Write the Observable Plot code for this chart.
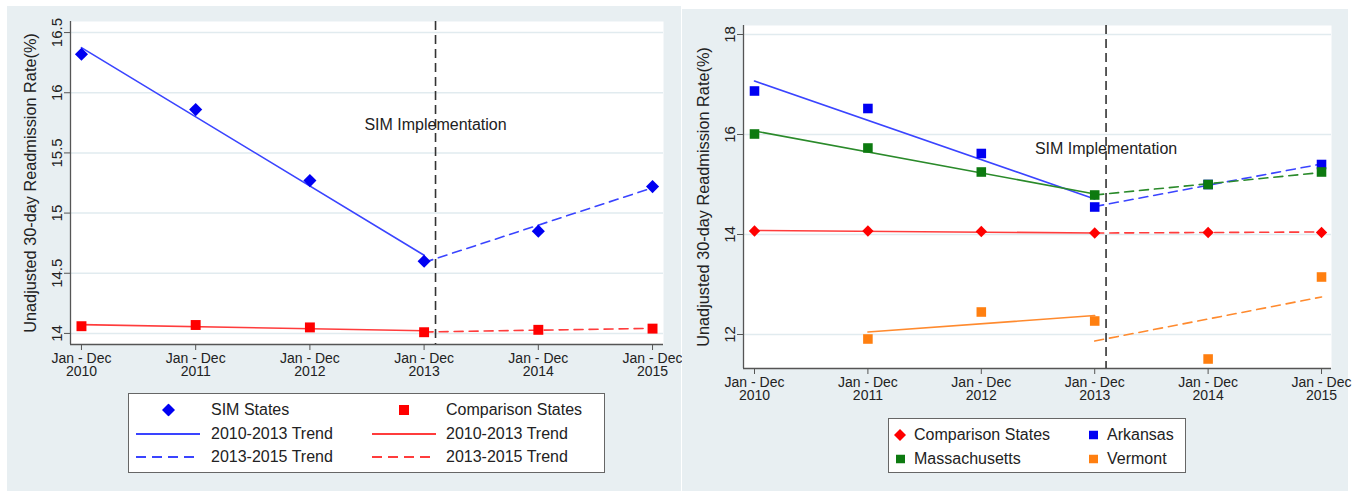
<!DOCTYPE html>
<html><head><meta charset="utf-8">
<script src="https://cdn.jsdelivr.net/npm/d3@7"></script>
<script src="https://cdn.jsdelivr.net/npm/@observablehq/plot@0.6"></script>
<style>
body{margin:0;background:#fff;width:1360px;height:491px;overflow:hidden;font-family:"Liberation Sans",Arial,sans-serif;}
#wrap{position:relative;width:1360px;height:491px;}
.panel{position:absolute;background:#e8eff2;}
.panel svg{display:block;}
.legend{position:absolute;background:#fff;border:1px solid #666;box-sizing:border-box;}
.item{position:absolute;font-size:16px;color:#222;white-space:nowrap;line-height:1;transform:translateY(-50%);}
.sample{position:absolute;transform:translateY(-50%);}
</style></head><body><div id="wrap"></div>
<script>
// ---------- shared ----------
const years = [2010, 2011, 2012, 2013, 2014, 2015];
const xTickLabels = ["Jan - Dec\n2010", "Jan - Dec\n2011", "Jan - Dec\n2012", "Jan - Dec\n2013", "Jan - Dec\n2014", "Jan - Dec\n2015"];
const preYears = [2010, 2013];
const postYears = [2013, 2015];
const simYear = 2013.1;
const annotationText = "SIM Implementation";
const yTitle = "Unadjusted 30-day Readmission Rate(%)";

// ---------- left panel ----------
const leftYTicks = [14, 14.5, 15, 15.5, 16, 16.5];
const leftYTickLabels = ["14", "14.5", "15", "15.5", "16", "16.5"];
const simStates = [16.32, 15.86, 15.27, 14.60, 14.85, 15.22];
const comparisonStatesL = [14.06, 14.07, 14.05, 14.01, 14.03, 14.04];
const simTrendPre = [16.375, 14.65];
const simTrendPost = [14.59, 15.21];
const compTrendPreL = [14.073, 14.022];
const compTrendPostL = [14.012, 14.042];
const leftAnnotY = 15.73;

// ---------- right panel ----------
const rightYTicks = [12, 14, 16, 18];
const rightYTickLabels = ["12", "14", "16", "18"];
const comparisonStatesR = [14.07, 14.07, 14.06, 14.03, 14.04, 14.04];
const arkansas = [16.87, 16.52, 15.62, 14.55, 15.00, 15.40];
const massachusetts = [16.01, 15.73, 15.25, 14.79, 15.00, 15.25];
const vermont = [null, 11.91, 12.45, 12.27, 11.51, 13.15];
const compTrendPreR = [14.08, 14.03];
const compTrendPostR = [14.03, 14.05];
const arkTrendPre = [17.07, 14.71];
const arkTrendPost = [14.56, 15.41];
const massTrendPre = [16.07, 14.81];
const massTrendPost = [14.79, 15.24];
const vtTrendYearsPre = [2011, 2013];
const vtTrendPre = [12.05, 12.38];
const vtTrendPost = [11.87, 12.75];
const rightAnnotY = 15.72;

const BLUE = "#0000f2", BLUE_L = "#3a44ff";
const RED = "#ff0000", RED_L = "#ff3c3c";
const GREEN = "#0d7a10", GREEN_L = "#2a8a2a";
const ORANGE = "#ff7f10", ORANGE_L = "#ff8a2e";

const leftSeries = [
  {name: "SIM States", values: simStates, color: BLUE, line: BLUE_L, symbol: "diamond2", r: 5.9,
   pre: {years: preYears, values: simTrendPre}, post: {years: postYears, values: simTrendPost}},
  {name: "Comparison States", values: comparisonStatesL, color: RED, line: RED_L, symbol: "square", r: 5.6,
   pre: {years: preYears, values: compTrendPreL}, post: {years: postYears, values: compTrendPostL}}
];
const rightSeries = [
  {name: "Comparison States", values: comparisonStatesR, color: RED, line: RED_L, symbol: "diamond2", r: 5.1,
   pre: {years: preYears, values: compTrendPreR}, post: {years: postYears, values: compTrendPostR}},
  {name: "Arkansas", values: arkansas, color: BLUE, line: BLUE_L, symbol: "square", r: 5.4,
   pre: {years: preYears, values: arkTrendPre}, post: {years: postYears, values: arkTrendPost}},
  {name: "Massachusetts", values: massachusetts, color: GREEN, line: GREEN_L, symbol: "square", r: 5.4,
   pre: {years: preYears, values: massTrendPre}, post: {years: postYears, values: massTrendPost}},
  {name: "Vermont", values: vermont, color: ORANGE, line: ORANGE_L, symbol: "square", r: 5.4,
   pre: {years: vtTrendYearsPre, values: vtTrendPre}, post: {years: postYears, values: vtTrendPost}}
];

function toRows(ys, vs) { return ys.map((y, i) => ({year: y, value: vs[i]})).filter(d => d.value != null); }

function makePanel(cfg) {
  const marks = [
    Plot.frame({fill: "white", stroke: null}),
    Plot.gridY(cfg.yTicks, {stroke: "#e1ebef", strokeOpacity: 1, strokeWidth: 1.5}),
    Plot.ruleX([cfg.xDomain[0]], {stroke: "#555", strokeWidth: 1.3}),
    Plot.ruleY([cfg.yDomain[0]], {stroke: "#555", strokeWidth: 1.3})
  ];
  for (const s of cfg.series) {
    marks.push(Plot.line(toRows(s.pre.years, s.pre.values), {x: "year", y: "value", stroke: s.line, strokeWidth: 1.6}));
    marks.push(Plot.line(toRows(s.post.years, s.post.values), {x: "year", y: "value", stroke: s.line, strokeWidth: 1.6, strokeDasharray: "9,6"}));
  }
  marks.push(Plot.ruleX([simYear], {stroke: "#333", strokeWidth: 1.6, strokeDasharray: "9,5"}));
  for (const s of cfg.series) {
    marks.push(Plot.dot(toRows(years, s.values), {x: "year", y: "value", symbol: s.symbol, r: s.r, fill: s.color, stroke: null}));
  }
  marks.push(Plot.text([{label: annotationText, year: simYear, value: cfg.annotY}],
    {x: "year", y: "value", text: "label", fontSize: 16, fill: "#222"}));
  marks.push(Plot.axisX(years, {tickFormat: d => xTickLabels[years.indexOf(d)], tickSize: 6, tickPadding: 3,
    fontSize: 14, lineHeight: 0.95, stroke: "#555", fill: "#222", label: null}));
  marks.push(Plot.axisY(cfg.yTicks, {tickFormat: d => cfg.yTickLabels[cfg.yTicks.indexOf(d)], tickRotate: -90, tickSize: 6, tickPadding: 3, fontSize: 15,
    stroke: "#555", fill: "#222", label: null}));
  marks.push(Plot.axisY([], {label: yTitle, labelAnchor: "center", labelArrow: false, labelOffset: cfg.labelOffset, fontSize: 16.3, fill: "#222"}));

  return Plot.plot({
    width: cfg.width, height: cfg.height,
    marginLeft: cfg.ml, marginRight: cfg.mr, marginTop: cfg.mt, marginBottom: cfg.mb,
    x: {type: "linear", domain: cfg.xDomain, label: null},
    y: {type: "linear", domain: cfg.yDomain},
    style: {background: "transparent", fontFamily: "'Liberation Sans', Arial, sans-serif", fontSize: "14px", color: "#222", overflow: "visible"},
    marks
  });
}

const wrap = document.getElementById("wrap");
function addPanel(left, top, w, h, svg) {
  const div = document.createElement("div");
  div.className = "panel";
  Object.assign(div.style, {left: left + "px", top: top + "px", width: w + "px", height: h + "px"});
  div.appendChild(svg);
  wrap.appendChild(div);
}

addPanel(7, 6, 674, 485, makePanel({
  width: 674, height: 485, ml: 63, mr: 18, mt: 15, mb: 147,
  xDomain: [2009.904, 2015.096], yDomain: [13.908, 16.592], yTicks: leftYTicks, yTickLabels: leftYTickLabels,
  series: leftSeries, annotY: leftAnnotY, labelOffset: 46
}));
addPanel(682, 9, 666, 482, makePanel({
  width: 666, height: 482, ml: 61, mr: 17, mt: 16, mb: 123,
  xDomain: [2009.903, 2015.088], yDomain: [11.32, 18.18], yTicks: rightYTicks, yTickLabels: rightYTickLabels,
  series: rightSeries, annotY: rightAnnotY, labelOffset: 46
}));

// ---------- legends ----------
function sampleSvg(kind, color, size) {
  const ns = "http://www.w3.org/2000/svg";
  const svg = document.createElementNS(ns, "svg");
  if (kind === "line" || kind === "dash") {
    svg.setAttribute("width", size); svg.setAttribute("height", 6);
    const l = document.createElementNS(ns, "line");
    l.setAttribute("x1", 0); l.setAttribute("x2", size); l.setAttribute("y1", 3); l.setAttribute("y2", 3);
    l.setAttribute("stroke", color); l.setAttribute("stroke-width", 1.8);
    if (kind === "dash") l.setAttribute("stroke-dasharray", "10,6");
    svg.appendChild(l);
  } else {
    svg.setAttribute("width", size); svg.setAttribute("height", size);
    const p = document.createElementNS(ns, "path");
    const h = size / 2;
    p.setAttribute("d", kind === "diamond" ? `M${h},0L${size},${h}L${h},${size}L0,${h}Z` : `M0,0H${size}V${size}H0Z`);
    p.setAttribute("fill", color);
    svg.appendChild(p);
  }
  return svg;
}
function legendBox(left, top, w, h) {
  const d = document.createElement("div");
  d.className = "legend";
  Object.assign(d.style, {left: left + "px", top: top + "px", width: w + "px", height: h + "px"});
  wrap.appendChild(d);
  return d;
}
function addSample(box, cx, cy, svg, width) {
  const holder = document.createElement("div");
  holder.className = "sample";
  Object.assign(holder.style, {left: (cx - width / 2) + "px", top: cy + "px", lineHeight: 0});
  holder.appendChild(svg);
  box.appendChild(holder);
}
function addText(box, x, cy, text) {
  const t = document.createElement("div");
  t.className = "item";
  Object.assign(t.style, {left: x + "px", top: cy + "px"});
  t.textContent = text;
  box.appendChild(t);
}

const leftLegendRows = [16, 40, 63];
const lb = legendBox(128, 393, 477, 80);
[[leftSeries[0], 39, 82], [leftSeries[1], 275, 317]].forEach(([s, cx, tx]) => {
  const isDiamond = s.symbol === "diamond2";
  addSample(lb, cx, leftLegendRows[0], sampleSvg(isDiamond ? "diamond" : "square", s.color, isDiamond ? 13 : 10), isDiamond ? 13 : 10);
  addText(lb, tx, leftLegendRows[0], s.name);
  addSample(lb, cx, leftLegendRows[1], sampleSvg("line", s.line, 64), 64);
  addText(lb, tx, leftLegendRows[1], "2010-2013 Trend");
  addSample(lb, cx, leftLegendRows[2], sampleSvg("dash", s.line, 64), 64);
  addText(lb, tx, leftLegendRows[2], "2013-2015 Trend");
});

const rb = legendBox(888, 418, 298, 55);
const rightLegendPos = [[11, 16, 25], [204, 16, 218], [11, 40, 25], [204, 40, 218]];
[rightSeries[0], rightSeries[1], rightSeries[2], rightSeries[3]].forEach((s, i) => {
  const [cx, cy, tx] = rightLegendPos[i];
  const isDiamond = s.symbol === "diamond2";
  const sz = isDiamond ? 12 : 9;
  addSample(rb, cx, cy, sampleSvg(isDiamond ? "diamond" : "square", s.color, sz), sz);
  addText(rb, tx, cy, s.name);
});
</script>
</body></html>
